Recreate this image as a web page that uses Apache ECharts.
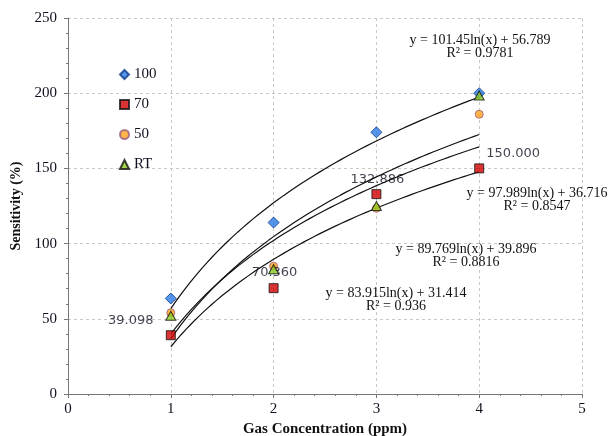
<!DOCTYPE html>
<html><head><meta charset="utf-8">
<script src="https://cdn.jsdelivr.net/npm/echarts@6/dist/echarts.min.js"></script>
<style>html,body{margin:0;padding:0;background:#fff}#c{width:612px;height:436px}</style>
</head><body><div id="c"></div>
<script>
const concentrations = [1, 2, 3, 4];
const s100 = [63.5, 114, 174, 200];
const s70 = [39.098, 70.36, 132.886, 150.0];
const s50 = [54, 85, 123.5, 186];
const sRT = [52, 83, 125, 198.5];
const seriesNames = ['100', '70', '50', 'RT'];
// trendline coefficients shown on chart: y = a*ln(x) + b
const trendA = [101.45, 97.989, 89.769, 83.915];
const trendB = [56.789, 36.716, 39.896, 31.414];
const trendR2 = ['0.9781', '0.8547', '0.8816', '0.936'];
const labeled70 = ['39.098', '70.360', '132.886', '150.000'];

const serif = 'Liberation Serif';
function trend(i){
  const pts=[];
  for(let k=0;k<=60;k++){const x=1+k*0.05; pts.push([x, trendA[i]*Math.log(x)+trendB[i]]);}
  return pts;
}
const lblOff = [[-40,-15],[1,-16],[1,-15],[34,-15]];
const data70 = concentrations.map((x,i)=>({value:[x,s70[i]],label:{show:true,position:'inside',offset:lblOff[i],formatter:labeled70[i],fontFamily:'DejaVu Sans',fontSize:13,color:'#101020'}}));
const eqPos = [[480,46.5],[537,199.5],[466,255.5],[396,299.5]];
const graphics=[];
for(let i=0;i<4;i++){
  graphics.push({type:'text',x:eqPos[i][0],y:eqPos[i][1],z:10,style:{text:'y = '+trendA[i]+'ln(x) + '+trendB[i]+'\nR² = '+trendR2[i],font:'14px "Liberation Serif"',fill:'#111',align:'center',verticalAlign:'middle',lineHeight:13}});
}
const chart = echarts.init(document.getElementById('c'));
const trendSeries = [0,1,2,3].map(i=>({type:'line',data:trend(i),showSymbol:false,symbol:'none',silent:true,lineStyle:{color:'#111',width:1.2},z:1}));
chart.setOption({
  animation:false,
  grid:{left:68,right:30,top:18,bottom:42,outerBoundsMode:'none',containLabel:false},
  legend:{orient:'vertical',left:114,top:62,itemWidth:9,itemHeight:9,itemGap:15,data:seriesNames,textStyle:{fontFamily:serif,fontSize:15,color:'#101020'}},
  xAxis:{type:'value',min:0,max:5,interval:1,name:'Gas Concentration (ppm)',nameLocation:'middle',nameGap:27,
    nameTextStyle:{fontFamily:serif,fontWeight:'bold',fontSize:15,color:'#111'},
    axisLine:{lineStyle:{color:'#777'}},axisTick:{length:4,lineStyle:{color:'#777'}},
    minorTick:{show:true,splitNumber:5,length:2,lineStyle:{color:'#777'}},
    axisLabel:{fontFamily:serif,fontSize:15,color:'#101020',margin:8},
    splitLine:{show:true,lineStyle:{color:'#c8c8c8',type:[3,3]}}},
  yAxis:{type:'value',min:0,max:250,interval:50,name:'Sensitivity (%)',nameLocation:'middle',nameGap:44,nameRotate:90,
    nameTextStyle:{fontFamily:serif,fontWeight:'bold',fontSize:14,color:'#111'},
    axisLine:{show:true,lineStyle:{color:'#777'}},axisTick:{show:true,length:4,lineStyle:{color:'#777'}},
    minorTick:{show:true,splitNumber:5,length:2,lineStyle:{color:'#777'}},
    axisLabel:{fontFamily:serif,fontSize:15,color:'#101020',margin:11},
    splitLine:{show:true,lineStyle:{color:'#c8c8c8',type:[3,3]}}},
  graphic:graphics,
  series:[
    ...trendSeries,
    {name:'100',type:'scatter',symbol:'diamond',symbolSize:[11,11],data:concentrations.map((x,i)=>[x,s100[i]]),itemStyle:{color:'#2b7be4',borderColor:'#0c3a8c',borderWidth:1},z:3},
    {name:'70',type:'scatter',symbol:'rect',symbolSize:9,data:data70,itemStyle:{color:'#d00000',borderColor:'#111',borderWidth:1},z:3},
    {name:'50',type:'scatter',symbol:'circle',symbolSize:8,data:concentrations.map((x,i)=>[x,s50[i]]),itemStyle:{color:'#ffa31a',borderColor:'#9a5a80',borderWidth:1},z:3},
    {name:'RT',type:'scatter',symbol:'triangle',symbolSize:[10,9],data:concentrations.map((x,i)=>[x,sRT[i]]),itemStyle:{color:'#8ccc20',borderColor:'#111',borderWidth:1},z:4}
  ]
});
</script></body></html>
